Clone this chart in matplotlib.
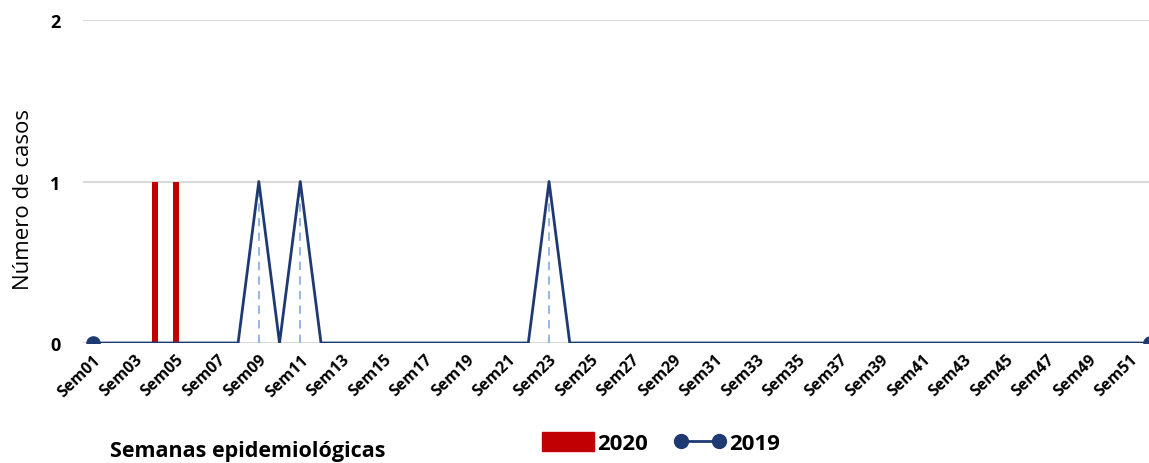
import numpy as np
import matplotlib.pyplot as plt
from matplotlib.lines import Line2D
from matplotlib.patches import Patch

weeks = [f"Sem{i:02d}" for i in range(1, 53)]
casos_2020 = [0, 0, 0, 1, 1] + [0] * 47
casos_2019 = [0] * 52
for w in (9, 11, 23):
    casos_2019[w - 1] = 1

navy = "#1F3A73"
red = "#C00000"

plt.rcParams['font.family'] = ['Open Sans', 'DejaVu Sans']

fig = plt.figure(figsize=(11.49, 4.64), dpi=100)
ax = fig.add_axes([82.6 / 1149, 1 - 344 / 464, 1078 / 1149, (344 - 21) / 464])

x = np.arange(len(weeks))
ax.bar(x, casos_2020, width=0.32, color=red, zorder=3)

# drop lines under 2019 peaks
peaks = [i for i, v in enumerate(casos_2019) if v > 0]
ax.vlines(peaks, 0, [casos_2019[i] for i in peaks], colors="#9DB7E3",
          linestyles=(0, (4, 3)), linewidth=1.5, zorder=2)
ax.plot(x, casos_2019, color=navy, linewidth=2, zorder=4)
ends = [0, len(x) - 1]
ax.scatter(x[ends], [casos_2019[i] for i in ends], s=90, color=navy,
           zorder=5, clip_on=True)

ax.set_xlim(-0.5, len(x) - 0.5)
ax.set_ylim(0, 2)
ax.set_yticks([0, 1, 2])
ax.grid(axis="y", color="#D9D9D9", linewidth=1.5, zorder=0)
ax.set_axisbelow(True)
for s in ax.spines.values():
    s.set_visible(False)
ax.tick_params(length=0)
ax.tick_params(axis="y", labelsize=13, pad=16)
for t in ax.get_yticklabels():
    t.set_fontweight("bold")

ax.set_xticks(x[::2])
ax.set_xticklabels(weeks[::2], rotation=44, ha="right", rotation_mode="anchor",
                   fontsize=11.5, fontweight="bold")
ax.tick_params(axis="x", pad=6)

ax.set_ylabel("Número de casos", fontsize=16)
ax.yaxis.set_label_coords(-0.045, 0.446)
fig.text(110 / 1149, 1 - 452 / 464, "Semanas epidemiológicas", fontsize=15.5,
         fontweight="bold", va="center", ha="left")

handles = [Patch(color=red),
           Line2D([0], [0], color=navy, linewidth=2, marker="o", markersize=10)]
fig.legend(handles, ["2020", "2019"], loc="center",
           bbox_to_anchor=(661 / 1149, 1 - 444 / 464), ncol=2, frameon=False,
           prop={"weight": "bold", "size": 16}, handlelength=2.3,
           handleheight=0.9, handletextpad=0.15, columnspacing=1.2, numpoints=2)

fig.savefig("out.png", dpi=100)
